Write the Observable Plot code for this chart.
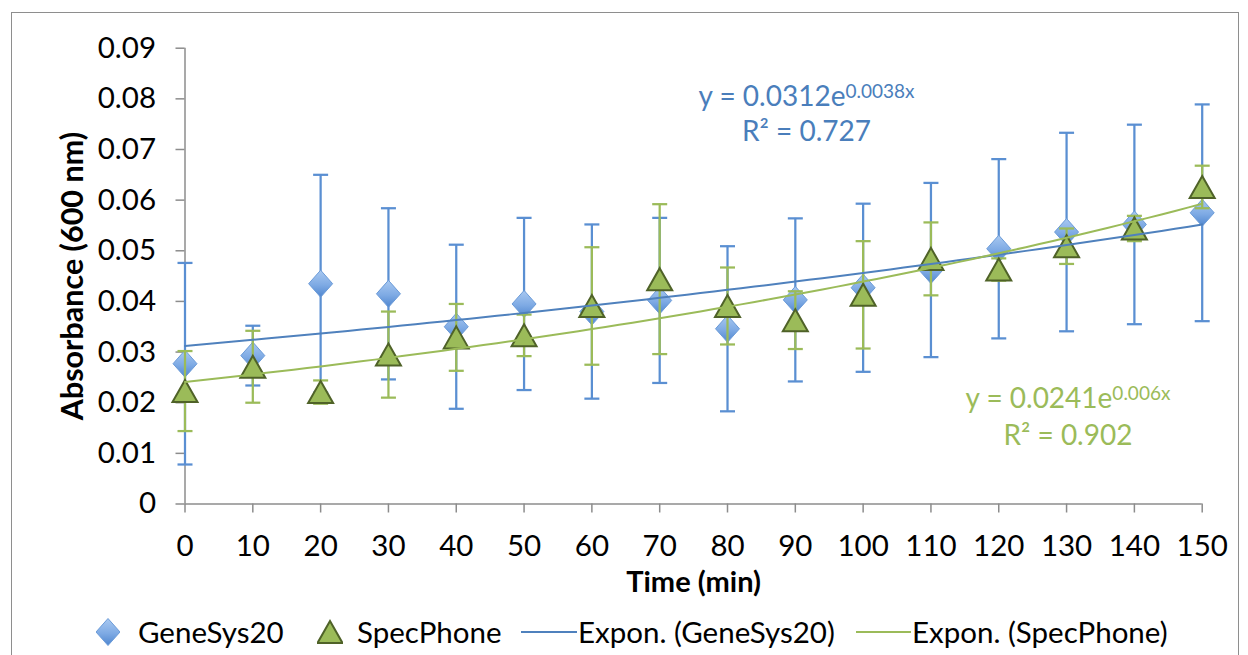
<!DOCTYPE html>
<html><head><meta charset="utf-8">
<script src="https://cdn.jsdelivr.net/npm/d3@7"></script>
<script src="https://cdn.jsdelivr.net/npm/@observablehq/plot@0.6"></script>
<style>
html,body{margin:0;padding:0;background:#fff;}
body{width:1248px;height:655px;overflow:hidden;position:relative;font-family:Lato,"Open Sans",sans-serif;}
#frame{position:absolute;left:11px;top:12px;width:1228px;height:720px;border:1.5px solid #8e8e8e;box-sizing:border-box;}
#chart{position:absolute;left:0;top:0;}
#legend{position:absolute;left:0;top:612px;width:1248px;height:40px;font-size:29.5px;color:#000;}
#legend .it{position:absolute;top:0;height:40px;line-height:40px;white-space:nowrap;}
#legend svg{position:absolute;top:0;}
</style></head><body>
<div id="frame"></div>
<div id="chart"></div>
<div id="legend"></div>
<script>
// ---- data ----
const times = [0,10,20,30,40,50,60,70,80,90,100,110,120,130,140,150];
const geneSys = [0.0277,0.0293,0.0435,0.0415,0.0350,0.0395,0.0380,0.0402,0.0346,0.0403,0.0427,0.0462,0.0504,0.0537,0.0552,0.0575];
const geneSysErr = [0.0199,0.0059,0.0215,0.0169,0.0162,0.0170,0.0172,0.0163,0.0163,0.0161,0.0166,0.0172,0.0177,0.0196,0.0197,0.0214];
const specPhone = [0.0223,0.0271,0.0221,0.0295,0.0329,0.0333,0.0391,0.0444,0.0391,0.0363,0.0413,0.0484,0.0463,0.0509,0.0544,0.0626];
const specPhoneErr = [0.0079,0.0071,0.0023,0.0085,0.0066,0.0041,0.0116,0.0148,0.0076,0.0057,0.0106,0.0072,0.0022,0.0035,0.0025,0.0042];
const seriesNames = ["GeneSys20","SpecPhone"];
const fitA = [0.0312, 0.0241];
const fitB = [0.0038, 0.006];
const eqLine1 = ["y = 0.0312e^0.0038x", "y = 0.0241e^0.006x"];
const eqLine2 = ["R² = 0.727", "R² = 0.902"];
const eqX = [91.65, 130.2];
const eqY1 = [0.07866, 0.01905];
const eqY2 = [0.07175, 0.01174];
const xTicks = times;
const yTicks = [0,0.01,0.02,0.03,0.04,0.05,0.06,0.07,0.08,0.09];
const yTickLabels = ["0","0.01","0.02","0.03","0.04","0.05","0.06","0.07","0.08","0.09"];
const xLabel = "Time (min)";
const yLabel = "Absorbance (600 nm)";
const legendLabels = ["GeneSys20","SpecPhone","Expon. (GeneSys20)","Expon. (SpecPhone)"];

// ---- styles ----
const BLUE = "#4f81bd", BLUE_ERR = "#5a8fd2", GREEN = "#9bbb59", GREEN_DARK = "#4f6228", AXIS = "#8c8c8c";

const gs = times.map((t,i)=>({t, v:geneSys[i], e:geneSysErr[i]}));
const sp = times.map((t,i)=>({t, v:specPhone[i], e:specPhoneErr[i]}));
const caps = arr => arr.flatMap(d=>[{t:d.t, y:d.v+d.e},{t:d.t, y:d.v-d.e}]);
const fitPts = k => d3.range(0,151,2).map(t=>({t, y: fitA[k]*Math.exp(fitB[k]*t)}));
const eqs = seriesNames.map((s,i)=>({s, x:eqX[i], y1:eqY1[i], y2:eqY2[i], l1:eqLine1[i], l2:eqLine2[i]}));

const diamondSym = {draw(c){c.moveTo(0,-13.5);c.lineTo(12,0);c.lineTo(0,13.5);c.lineTo(-12,0);c.closePath();}};
const triSym = {draw(c){c.moveTo(0,-11);c.lineTo(12.5,11);c.lineTo(-12.5,11);c.closePath();}};
const capSym = {draw(c){c.moveTo(-7.5,0);c.lineTo(7.5,0);}};

const H = 600;
const chart = Plot.plot({
  width: 1248, height: H,
  marginLeft: 184.5, marginRight: 46.3, marginTop: 47.7, marginBottom: H-503.5,
  style: {fontFamily: "Lato, 'Open Sans', sans-serif", fontSize: "29.5px", background: "transparent", overflow: "visible"},
  x: {domain: [0,150]},
  y: {domain: [0,0.09]},
  marks: [
    Plot.axisY({ticks: yTicks, tickFormat: d => yTickLabels[yTicks.indexOf(d)], tickSize: 9, tickPadding: 20, fontSize: 29.5, stroke: AXIS, strokeWidth: 1.5, fill: "#000", label: null}),
    Plot.axisX({ticks: xTicks, tickFormat: d => String(d), tickSize: 9, tickPadding: 22.5, fontSize: 29.5, stroke: AXIS, strokeWidth: 1.5, fill: "#000", label: null}),
    Plot.ruleX([0], {y1: 0, y2: 0.09, stroke: AXIS, strokeWidth: 1.5}),
    Plot.ruleY([0], {x1: 0, x2: 150, stroke: AXIS, strokeWidth: 1.5}),
    Plot.ruleX(gs, {x: "t", y1: d=>d.v-d.e, y2: d=>d.v+d.e, stroke: BLUE_ERR, strokeWidth: 2.25}),
    Plot.dot(caps(gs), {x: "t", y: "y", symbol: capSym, r: 4, fill: "none", stroke: BLUE_ERR, strokeWidth: 2.25}),
    Plot.dot(gs, {x: "t", y: "v", symbol: diamondSym, r: 5, fill: "url(#gsGrad)", stroke: "#6b9bd8", strokeWidth: 1}),
    Plot.ruleX(sp, {x: "t", y1: d=>d.v-d.e, y2: d=>d.v+d.e, stroke: GREEN, strokeWidth: 2.25}),
    Plot.dot(caps(sp), {x: "t", y: "y", symbol: capSym, r: 4, fill: "none", stroke: GREEN, strokeWidth: 2.25}),
    Plot.dot(sp, {x: "t", y: "v", symbol: triSym, r: 5, fill: "#9bbb59", stroke: GREEN_DARK, strokeWidth: 2}),
    Plot.line(fitPts(0), {x: "t", y: "y", stroke: BLUE, strokeWidth: 2}),
    Plot.line(fitPts(1), {x: "t", y: "y", stroke: GREEN, strokeWidth: 2}),
    Plot.text(eqs, {x: "x", y: "y1", text: "l1", fill: (d)=>d.s, fontSize: 28, textAnchor: "middle", lineAnchor: "bottom"}),
    Plot.text(eqs, {x: "x", y: "y2", text: "l2", fill: (d)=>d.s, fontSize: 28, textAnchor: "middle", lineAnchor: "bottom"}),
    Plot.text([xLabel], {frameAnchor: "bottom", dy: 88, fontSize: 29, fontWeight: "bold", textAnchor: "middle", lineAnchor: "bottom", fill: "#000"}),
    Plot.text([yLabel], {frameAnchor: "left", dx: -102.5, rotate: -90, fontSize: 30.5, fontWeight: "bold", textAnchor: "middle", lineAnchor: "bottom", fill: "#000"})
  ],
  color: {domain: seriesNames, range: ["#4a7ebb", "#9bbb59"]}
});
document.getElementById("chart").append(chart);

// gradient defs + superscripts
const NS = "http://www.w3.org/2000/svg";
const svg = chart.tagName.toLowerCase() === "svg" ? chart : chart.querySelector("svg");
const defs = document.createElementNS(NS, "defs");
defs.innerHTML = '<linearGradient id="gsGrad" x1="0" y1="0" x2="0" y2="1"><stop offset="0" stop-color="#a9c9f1"/><stop offset="0.55" stop-color="#7eaae4"/><stop offset="1" stop-color="#4f86cf"/></linearGradient>';
svg.insertBefore(defs, svg.firstChild);
svg.querySelectorAll("text").forEach(t => {
  if (t.textContent.includes("^")) {
    const [a, b] = t.textContent.split("^");
    t.textContent = "";
    const t1 = document.createElementNS(NS, "tspan"); t1.textContent = a;
    const t2 = document.createElementNS(NS, "tspan"); t2.textContent = b;
    t2.setAttribute("dy", "-8"); t2.setAttribute("font-size", "19");
    t.append(t1, t2);
  }
});

// legend
const lg = document.getElementById("legend");
const legendItems = [
  {sym: '<path d="M12,6.5L24,20L12,33.5L0,20Z" fill="url(#gsGradL)" stroke="#6b9bd8" stroke-width="1"/>', symX: 96, w: 24, textX: 138},
  {sym: '<path d="M13,9L25.5,31L0.5,31Z" fill="#9bbb59" stroke="#4f6228" stroke-width="2"/>', symX: 317, w: 26, textX: 357},
  {sym: '<line x1="0" y1="20" x2="56" y2="20" stroke="'+BLUE+'" stroke-width="2"/>', symX: 521, w: 56, textX: 578},
  {sym: '<line x1="0" y1="20" x2="55" y2="20" stroke="'+GREEN+'" stroke-width="2"/>', symX: 856, w: 55, textX: 912}
];
legendItems.forEach((it, i) => {
  const s = document.createElementNS(NS, "svg");
  s.setAttribute("width", it.w); s.setAttribute("height", 40);
  s.style.left = it.symX + "px";
  s.innerHTML = (i === 0 ? '<defs><linearGradient id="gsGradL" x1="0" y1="0" x2="0" y2="1"><stop offset="0" stop-color="#a9c9f1"/><stop offset="0.55" stop-color="#7eaae4"/><stop offset="1" stop-color="#4f86cf"/></linearGradient></defs>' : '') + it.sym;
  lg.append(s);
  const sp = document.createElement("span");
  sp.className = "it"; sp.style.left = it.textX + "px"; sp.textContent = legendLabels[i];
  lg.append(sp);
});
</script>
</body></html>
